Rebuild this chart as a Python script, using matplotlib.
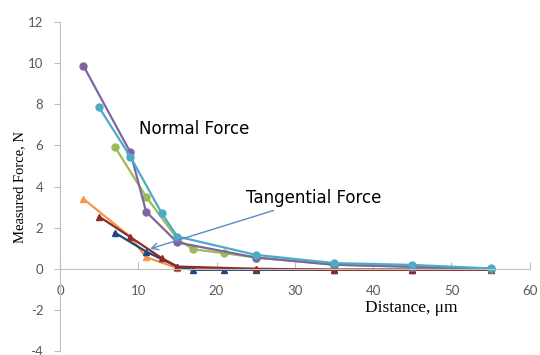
import numpy as np
from matplotlib import pyplot as plt

plt.rcParams['axes.unicode_minus'] = False

# normal force runs (circles)
x_purple = [3, 9, 11, 15, 25, 35, 45, 55]
y_purple = [9.87, 5.66, 2.78, 1.28, 0.55, 0.2, 0.1, 0.0]
x_cyan = [5, 9, 13, 15, 25, 35, 45, 55]
y_cyan = [7.85, 5.45, 2.7, 1.57, 0.68, 0.28, 0.19, 0.02]
x_green = [7, 11, 15, 17, 21, 25, 35, 45, 55]
y_green = [5.94, 3.51, 1.45, 0.95, 0.76, 0.55, 0.2, 0.1, 0.0]

# tangential force runs (triangles)
x_orange = [3, 9, 11, 15, 25, 35, 45, 55]
y_orange = [3.4, 1.55, 0.57, 0.03, 0.0, -0.03, -0.03, -0.03]
x_navy = [7, 11, 15, 17, 21, 25, 35, 45, 55]
y_navy = [1.76, 0.84, 0.1, -0.05, -0.05, -0.05, -0.05, -0.05, 0.0]
x_maroon = [5, 9, 13, 15, 25, 35, 45, 55]
y_maroon = [2.54, 1.54, 0.52, 0.11, 0.0, -0.05, -0.05, -0.05]

x_ticks = [0, 10, 20, 30, 40, 50, 60]
y_ticks = [-4, -2, 0, 2, 4, 6, 8, 10, 12]

fig = plt.figure(figsize=(5.4, 3.55), dpi=100)
ax = fig.add_axes([0.111, 0.011, 0.870, 0.927])

ax.plot(x_orange, y_orange, color='#f79646', marker='^', ms=5, lw=1.6)
ax.plot(x_navy, y_navy, color='#1f497d', marker='^', ms=5, lw=1.6)
ax.plot(x_maroon, y_maroon, color='#8c2d2b', marker='^', ms=5, lw=1.6)
ax.plot(x_green, y_green, color='#9bbb59', marker='o', ms=5, lw=1.6)
ax.plot(x_purple, y_purple, color='#8064a2', marker='o', ms=5, lw=1.6)
ax.plot(x_cyan, y_cyan, color='#4bacc6', marker='o', ms=5, lw=1.6)

ax.set_xlim(0, 60)
ax.set_ylim(-4, 12)
ax.set_xticks(x_ticks)
ax.set_yticks(y_ticks)

for s in ['top', 'right']:
    ax.spines[s].set_visible(False)
ax.spines['bottom'].set_position(('data', 0))
ax.spines['left'].set_color('#bfbfbf')
ax.spines['bottom'].set_color('#bfbfbf')
ax.tick_params(axis='x', direction='in', length=5, color='#bfbfbf', pad=12,
               labelsize=9.5, labelcolor='#595959')
ax.tick_params(axis='y', direction='out', length=4, color='#bfbfbf', pad=8,
               labelsize=9.5, labelcolor='#595959')
for lab in ax.get_xticklabels() + ax.get_yticklabels():
    lab.set_family('Lato')

ax.set_ylabel('Measured Force, N', family='Liberation Serif', fontsize=10.5, labelpad=1)
ax.text(0.747, 0.13, 'Distance, \u03bcm', transform=ax.transAxes, ha='center', va='center',
        family='Liberation Serif', fontsize=12.5)

ax.text(10.1, 6.8, 'Normal Force', fontsize=12, va='center')
ax.annotate('Tangential Force', xy=(11.5, 0.97), xytext=(23.8, 3.45), fontsize=12, va='center',
            arrowprops=dict(arrowstyle='->', color='#5b8bc0', lw=1.0, shrinkA=2, shrinkB=0))

fig.savefig('out.png', dpi=100)
